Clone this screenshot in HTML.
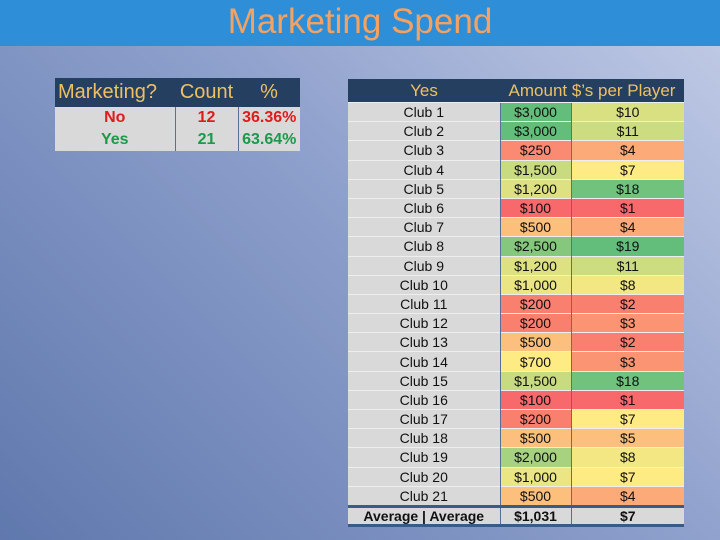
<!DOCTYPE html>
<html><head><meta charset="utf-8"><style>
body{margin:0;width:720px;height:540px;overflow:hidden;font-family:"Liberation Sans",sans-serif;}
#bg{position:absolute;left:0;top:0;width:720px;height:540px;background:linear-gradient(225deg,#c2cce6 0%,#8ea0cc 45%,#5f78ad 100%);}
#titlebar{position:absolute;left:0;top:0;width:720px;height:46px;background:#2e8fd8;}
#title{position:absolute;left:0;top:2px;width:720px;text-align:center;color:#f4a261;font-size:35px;}
table{position:absolute;border-collapse:collapse;}
td,th{padding:0;text-align:center;}
#left{left:55px;top:78px;width:245px;}
#left th{background:#243f60;color:#f0c060;font-weight:normal;font-size:20px;height:29px;}
#left td{background:#d9d9d9;font-weight:bold;font-size:16px;height:22px;border-left:1px solid #5a6f95;}
#left td:first-child{border-left:none}
#right{left:348px;top:79px;width:336px;font-size:14px;}
#right th{background:#243f60;color:#f0c060;font-weight:normal;font-size:17px;height:23px;}
#right td{height:18.2px;border-top:1px solid #eee;color:#111;}
#right td.n{background:#d9d9d9;}
#right td.c{border-left:1px solid #5a6f95;}
#right tr.avg td{background:#d9d9d9;font-weight:bold;border-top:3px solid #3a5a8a;border-bottom:3px solid #3a5a8a;height:16px;}
</style></head><body>
<div id="bg"></div>
<div id="titlebar"></div>
<div id="title">Marketing Spend</div>
<table id="left">
<tr><th style="text-align:left;padding-left:3px;width:117px">Marketing?</th><th style="width:63px">Count</th><th>%</th></tr>
<tr><td style="color:#e01b1b">No</td><td style="color:#e01b1b">12</td><td style="color:#e01b1b">36.36%</td></tr>
<tr><td style="color:#1a9a4a">Yes</td><td style="color:#1a9a4a">21</td><td style="color:#1a9a4a">63.64%</td></tr>
</table>
<table id="right"><tbody id="rb">
<tr><th style="width:152px">Yes</th><th colspan="2">Amount $’s per Player</th></tr>
</tbody></table>
<script>
const clubs=["Club 1","Club 2","Club 3","Club 4","Club 5","Club 6","Club 7","Club 8","Club 9","Club 10","Club 11","Club 12","Club 13","Club 14","Club 15","Club 16","Club 17","Club 18","Club 19","Club 20","Club 21"];
const amounts=[3000,3000,250,1500,1200,100,500,2500,1200,1000,200,200,500,700,1500,100,200,500,2000,1000,500];
const perPlayer=[10,11,4,7,18,1,4,19,11,8,2,3,2,3,18,1,7,5,8,7,4];
function mix(a,b,t){return 'rgb('+a.map((v,i)=>Math.round(v+(b[i]-v)*t)).join(',')+')';}
const R=[248,105,107],Y=[255,235,132],G=[99,190,123];
function scale(arr){const s=[...arr].sort((a,b)=>a-b),mn=s[0],mx=s[s.length-1],md=s[Math.floor(s.length/2)];
return v=>v<=md?mix(R,Y,(v-mn)/(md-mn||1)):mix(Y,G,(v-md)/(mx-md||1));}
const ca=scale(amounts),cp=scale(perPlayer);
const fmt=v=>'$'+v.toLocaleString('en-US');
const tb=document.getElementById('rb');
clubs.forEach((c,i)=>{const tr=document.createElement('tr');


tr.innerHTML='<td class="n">'+c+'</td><td class="c" style="width:70px;background:'+ca(amounts[i])+'">'+fmt(amounts[i])+'</td><td class="c" style="background:'+cp(perPlayer[i])+'">'+fmt(perPlayer[i])+'</td>';
tb.appendChild(tr);});
const avgA=Math.round(amounts.reduce((a,b)=>a+b,0)/amounts.length);
const avgP=Math.round(perPlayer.reduce((a,b)=>a+b,0)/perPlayer.length);
const tr=document.createElement('tr');tr.className='avg';


tr.innerHTML='<td>Average | Average</td><td class="c">'+fmt(avgA)+'</td><td class="c">'+fmt(avgP)+'</td>';
tb.appendChild(tr);
</script>
</body></html>
